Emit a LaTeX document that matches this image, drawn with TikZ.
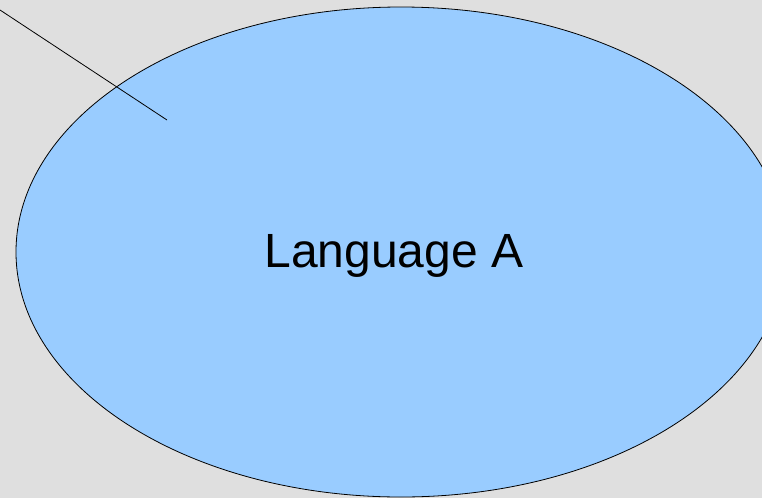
\documentclass[tikz,border=0pt]{standalone}
\usepackage{fontspec}
\setmainfont{Liberation Sans}
\usepackage{xcolor}
\definecolor{bggray}{RGB}{223,223,223}
\definecolor{langblue}{RGB}{153,204,255}
\usetikzlibrary{positioning}

\begin{document}
\begin{tikzpicture}[x=1pt,y=-1pt]
  % Background
  \fill[bggray] (0,0) rectangle (762,498);
  \useasboundingbox (0,0) rectangle (762,498);
  \clip (0,0) rectangle (762,498);

  % Language bubble
  \draw[fill=langblue, draw=black, line width=0.8pt] (401,252) ellipse [x radius=385, y radius=245];
  \node[font=\fontsize{48}{57}\selectfont, black, align=center] (langA) at (394,256) {Language A};

  % Pointer line
  \coordinate (ptrStart) at (0,10);
  \coordinate (ptrEnd) at (167,120);
  \draw[black, line width=0.8pt] (ptrStart) -- (ptrEnd);
\end{tikzpicture}
\end{document}
